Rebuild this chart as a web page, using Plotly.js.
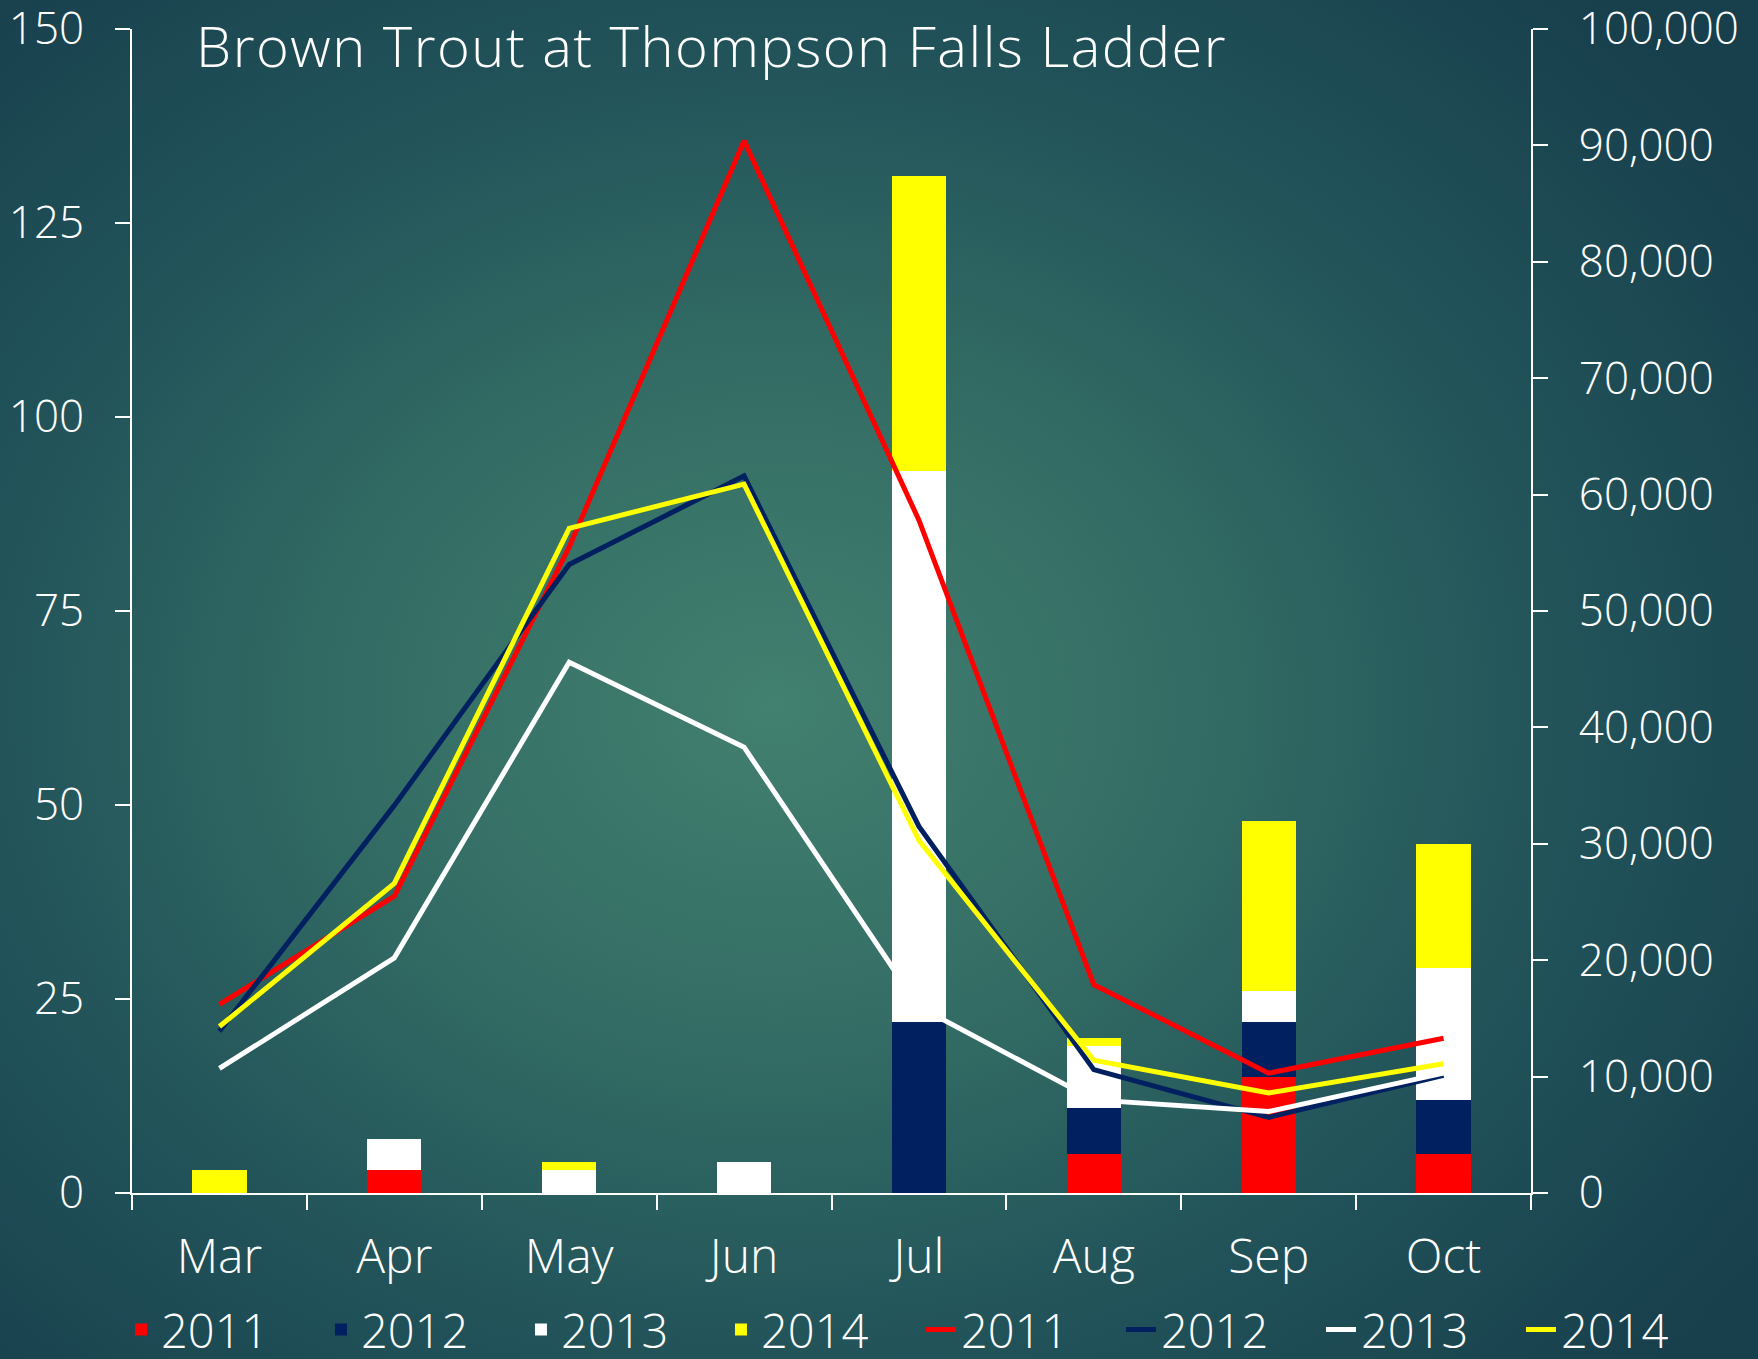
<!DOCTYPE html>
<html>
<head>
<meta charset="utf-8">
<script src="https://cdn.plot.ly/plotly-3.0.1.min.js"></script>
<style>
  html, body { margin: 0; padding: 0; width: 1758px; height: 1359px; overflow: hidden; }
  body {
    background: radial-gradient(ellipse 68% 72% at 44% 52%, #42806f 0%, #336c64 35%, #22545a 65%, #173f4c 100%);
  }
  #chart { width: 1758px; height: 1359px; }
  .gtitle { letter-spacing: 1.5px; }
</style>
</head>
<body>
<div id="chart"></div>
<script>
const months = ['Mar', 'Apr', 'May', 'Jun', 'Jul', 'Aug', 'Sep', 'Oct'];
const years = ['2011', '2012', '2013', '2014'];

// Stacked bars (left axis)
const bar2011 = [0, 3, 0, 0, 0, 5, 15, 5];
const bar2012 = [0, 0, 0, 0, 22, 6, 7, 7];
const bar2013 = [0, 4, 3, 4, 71, 8, 4, 17];
const bar2014 = [3, 0, 1, 0, 38, 1, 22, 16];

// Lines (right axis)
const line2011 = [16200, 25500, 55500, 90400, 57800, 17900, 10300, 13300];
const line2012 = [13900, 33300, 54000, 61600, 31500, 10600, 6500, 10100];
const line2013 = [10700, 20200, 45600, 38300, 16000, 8000, 7000, 10300];
const line2014 = [14300, 26600, 57100, 60900, 30300, 11400, 8600, 11100];

const colors = ['#ff0000', '#002060', '#ffffff', '#ffff00'];
const barSeries = [bar2011, bar2012, bar2013, bar2014];
const lineSeries = [line2011, line2012, line2013, line2014];

const FONT = '"Open Sans", "Noto Sans", sans-serif';

const traces = [];
barSeries.forEach((vals, i) => {
  traces.push({
    type: 'bar', name: years[i], x: months, y: vals,
    marker: { color: colors[i], line: { width: 0 } },
    yaxis: 'y', hoverinfo: 'skip'
  });
});
lineSeries.forEach((vals, i) => {
  traces.push({
    type: 'scatter', mode: 'lines', name: years[i], x: months, y: vals,
    line: { color: colors[i], width: 5 },
    yaxis: 'y2', hoverinfo: 'skip'
  });
});

const axisCommon = {
  showgrid: false, zeroline: false, showline: true,
  linecolor: '#ffffff', linewidth: 2,
  ticks: 'outside', ticklen: 15, tickwidth: 2, tickcolor: '#ffffff',
  ticklabeloverflow: 'allow',
  tickfont: { family: FONT, size: 44, color: '#ffffff', weight: 300 }
};

const layout = {
  width: 1758, height: 1359,
  paper_bgcolor: 'rgba(0,0,0,0)', plot_bgcolor: 'rgba(0,0,0,0)',
  margin: { l: 132, r: 227, t: 29, b: 166, autoexpand: false },
  barmode: 'stack', bargap: 0.69,
  title: {
    text: 'Brown Trout at Thompson Falls Ladder',
    font: { family: FONT, size: 56, color: '#ffffff', weight: 300 },
    xref: 'container', x: 0.1115, xanchor: 'left',
    yref: 'container', y: 0.9654, yanchor: 'middle'
  },
  xaxis: Object.assign({}, axisCommon, {
    type: 'category', tickson: 'boundaries',
    tickfont: { family: FONT, size: 48, color: '#ffffff', weight: 300 },
    ticklabelstandoff: 20
  }),
  yaxis: Object.assign({}, axisCommon, {
    range: [0, 150], dtick: 25, tick0: 0, ticklabelstandoff: 22
  }),
  yaxis2: Object.assign({}, axisCommon, {
    range: [0, 100000], dtick: 10000, tick0: 0, tickformat: ',d',
    overlaying: 'y', side: 'right', ticklabelstandoff: 22
  }),
  showlegend: true,
  legend: {
    orientation: 'h', traceorder: 'normal',
    xref: 'paper', x: 1.1358, xanchor: 'right',
    yref: 'paper', y: -0.1177, yanchor: 'middle',
    entrywidth: 155, entrywidthmode: 'pixels',
    font: { family: FONT, size: 47, color: '#ffffff', weight: 300 },
    bgcolor: 'rgba(0,0,0,0)', itemwidth: 30
  }
};

Plotly.newPlot('chart', traces, layout, { staticPlot: true, displayModeBar: false });
</script>
</body>
</html>
